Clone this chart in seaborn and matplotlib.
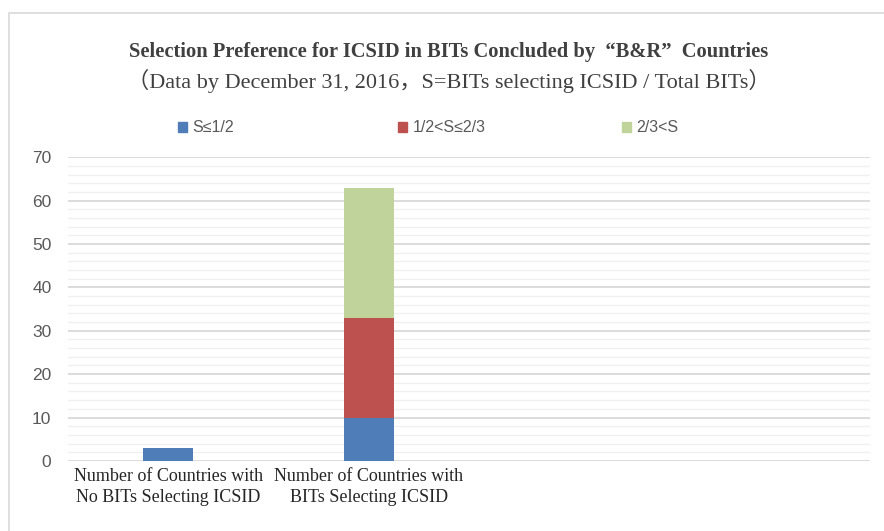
import numpy as np
import pandas as pd
import matplotlib
matplotlib.use('Agg')
import matplotlib.pyplot as plt
import seaborn as sns
from matplotlib.patches import Patch, Rectangle

# data
categories = ["No BITs", "BITs", "slot3", "slot4"]
tick_labels = ["Number of Countries with\nNo BITs Selecting ICSID",
               "Number of Countries with\nBITs Selecting ICSID", "", ""]
low_share = [3, 10, 0, 0]      # S<=1/2
mid_share = [0, 23, 0, 0]      # 1/2<S<=2/3
high_share = [0, 30, 0, 0]     # 2/3<S
series_names = ["S≤1/2", "1/2<S≤2/3", "2/3<S"]
colors = ["#4f7db8", "#bd514f", "#c0d39a"]

df = pd.DataFrame({"cat": categories, "low": low_share,
                   "mid": mid_share, "high": high_share})
df["c1"] = df["low"]
df["c2"] = df["low"] + df["mid"]
df["c3"] = df["c2"] + df["high"]

sns.set_style("white")
serif = ['Liberation Serif', 'Noto Sans CJK SC']
sans = ['Liberation Sans', 'DejaVu Sans']

fig = plt.figure(figsize=(8.84, 5.31), dpi=100)
ax = fig.add_axes([0.077, 0.132, 0.907, 0.572])

# stacked bars: draw cumulative totals from the top down
for col, c in zip(["c3", "c2", "c1"], colors[::-1]):
    sns.barplot(data=df, x="cat", y=col, order=categories, color=c,
                width=0.25, saturation=1, linewidth=0, ax=ax, zorder=3)

ax.set_ylim(0, 70)
ax.set_yticks(np.arange(0, 71, 10))
ax.set_yticks(np.arange(0, 71, 2), minor=True)
ax.grid(axis='y', which='major', color='#d9d9d9', lw=1.3, zorder=0)
ax.grid(axis='y', which='minor', color='#f0f0f0', lw=1.0, zorder=0)
ax.set_axisbelow(True)
for s in ax.spines.values():
    s.set_visible(False)
ax.set_xlabel("")
ax.set_ylabel("")
ax.set_xticks(range(len(categories)))
ax.set_xticklabels(tick_labels, family=serif, fontsize=13, color='#262626',
                   linespacing=1.35)
ax.tick_params(axis='x', length=0, pad=5)
ax.tick_params(axis='y', length=0, pad=12, labelsize=12.5, labelcolor='#595959')
ax.tick_params(axis='y', which='minor', length=0)
for t in ax.get_yticklabels():
    t.set_family(sans)

fig.text(0.508, 0.902, "Selection Preference for ICSID in BITs Concluded by  “B&R”  Countries",
         ha='center', va='center', family=serif, fontsize=14.8, fontweight='bold',
         color='#404040')
fig.text(0.508, 0.847, "（Data by December 31, 2016，S=BITs selecting ICSID / Total BITs）",
         ha='center', va='center', family=serif, fontsize=16, color='#404040')

# one legend entry per slot, placed like the original
legend_x = [178 / 884, 398 / 884, 622 / 884]
for c, n, lx in zip(colors, series_names, legend_x):
    leg = fig.legend(handles=[Patch(color=c, label=n)], loc='center left',
                     bbox_to_anchor=(lx, 0.759), frameon=False, borderpad=0,
                     borderaxespad=0, handlelength=0.55, handleheight=0.55,
                     handletextpad=0.35, prop={'family': sans, 'size': 11.5})
    for t in leg.get_texts():
        t.set_color('#595959')

# outer chart frame
fig.patches.append(Rectangle((9 / 884, -0.05), 1.1, 1 - 13 / 531 + 0.05,
                             transform=fig.transFigure, fill=False,
                             edgecolor='#d9d9d9', lw=1.2))

fig.savefig("out.png", dpi=100)
